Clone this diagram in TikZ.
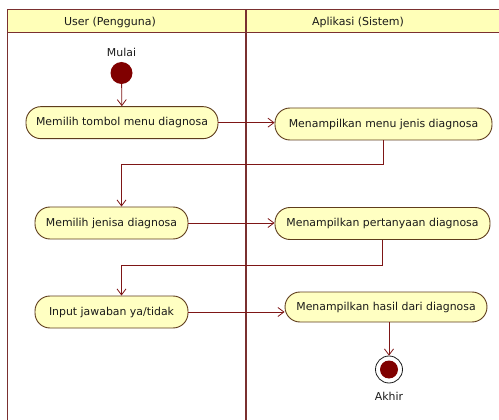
\documentclass[tikz,border=0pt]{standalone}
\usepackage{fontspec}
\setmainfont{DejaVu Sans}
\usepackage{tikz}
\usetikzlibrary{arrows.meta,positioning,calc}
\definecolor{laneline}{HTML}{7A3030}
\definecolor{headfill}{HTML}{FFFFB8}
\definecolor{actfill}{HTML}{FFFFC2}
\definecolor{actborder}{HTML}{5E3C1C}
\definecolor{flowred}{HTML}{7E1616}
\definecolor{startred}{HTML}{800000}
\definecolor{textgray}{HTML}{1A1A1A}
\tikzset{
  lane/.style={draw=laneline,line width=1pt},
  lanetitle/.style={font=\fontsize{11}{13}\selectfont,text=textgray},
  act/.style={rectangle,rounded corners=15pt,minimum height=32pt,inner xsep=0pt,
    draw=actborder,fill=actfill,text=textgray,line width=0.9pt,
    font=\fontsize{10.9}{13}\selectfont},
  initnode/.style={circle,fill=startred,minimum size=22pt,inner sep=0pt},
  finalnode/.style={circle,draw=textgray,fill=white,minimum size=27pt,inner sep=0pt,
    line width=0.8pt,
    path picture={\fill[startred] (path picture bounding box.center) circle (9pt);}},
  nodelabel/.style={font=\fontsize{10.9}{13}\selectfont,text=textgray,inner sep=1pt},
  flow/.style={-{Straight Barb[length=6pt,width=9pt]},line width=0.8pt,draw=flowred},
}

\begin{document}
\begin{tikzpicture}[x=1pt,y=-1pt]
  \useasboundingbox (0,0) rectangle (499,420);
  % swimlanes
  \fill[headfill] (7,10) rectangle (499,33);
  \draw[lane] (499,10) -- (7,10) -- (7,420);
  \draw[lane] (7,33) -- (499,33);
  \draw[lane,line width=2pt] (246,10) -- (246,420);
  \node[lanetitle] (userlane) at (110,22) {User (Pengguna)};
  \node[lanetitle] (applane) at (358,22) {Aplikasi (Sistem)};

  \node[initnode] (mulai) at (121.5,73) {};
  \node[nodelabel,above=4pt of mulai] (mulaitxt) {Mulai};
  \node[act,below=22pt of mulai,minimum width=192pt,xshift=0.5pt] (pilih1) {Memilih tombol menu diagnosa};
  \node[act,minimum width=217pt] (tampil1) at (383.5,124) {Menampilkan menu jenis diagnosa};
  \node[act,minimum width=153pt] (pilih2) at (111.5,223) {Memilih jenisa diagnosa};
  \node[act,minimum width=215pt] (tampil2) at (382.5,223.5) {Menampilkan pertanyaan diagnosa};
  \node[act,minimum width=153pt] (input) at (111.5,312) {Input jawaban ya/tidak};
  \node[act,minimum width=202pt,minimum height=30pt] (tampil3) at (386,307) {Menampilkan hasil dari diagnosa};
  \node[finalnode] (akhir) at (389,369.5) {};
  \node[nodelabel,below=8pt of akhir] (akhirtxt) {Akhir};

  \draw[flow] (mulai) -- (pilih1);
  \draw[flow] (pilih1.east) -- (pilih1.east -| tampil1.west);
  \draw[flow] (tampil1.south) -- ++(0,24) -| (mulai |- pilih2.north);
  \draw[flow] (pilih2.east) -- (pilih2.east -| tampil2.west);
  \draw[flow] (tampil2.south) -- ++(0,25) -| (mulai |- input.north);
  \draw[flow] (input.east) -- (input.east -| tampil3.west);
  \draw[flow] (akhir |- tampil3.south) -- (akhir);
\end{tikzpicture}
\end{document}
